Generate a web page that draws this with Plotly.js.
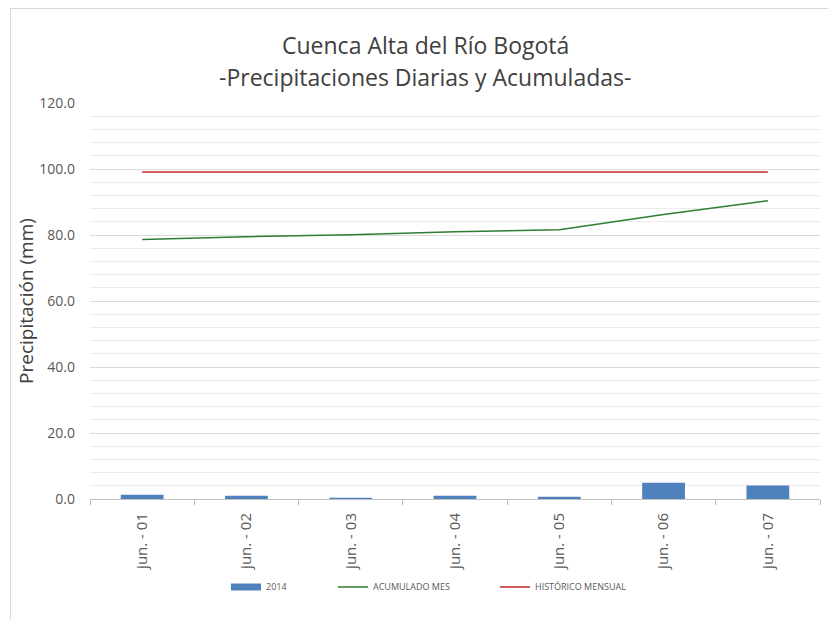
<!DOCTYPE html>
<html>
<head>
<meta charset="utf-8">
<script src="https://cdn.plot.ly/plotly-3.0.1.min.js"></script>
<style>
  html, body { margin: 0; padding: 0; background: #fff; }
  #wrap { position: relative; width: 828px; height: 620px; overflow: hidden; }
  #chart { position: absolute; left: 0; top: 0; width: 828px; height: 620px; }
  #frame { position: absolute; left: 10px; top: 8px; width: 830px; height: 640px; border: 1px solid #D9D9D9; pointer-events: none; }
</style>
</head>
<body>
<div id="wrap">
  <div id="chart"></div>
  <div id="frame"></div>
</div>
<script>
const categories = ["jun. - 01", "jun. - 02", "jun. - 03", "jun. - 04", "jun. - 05", "jun. - 06", "jun. - 07"];
const daily2014 = [1.3, 1.0, 0.4, 1.0, 0.7, 4.9, 4.1];
const acumuladoMes = [78.6, 79.5, 80.1, 81.0, 81.6, 86.2, 90.4];
const historicoMensual = [99.1, 99.1, 99.1, 99.1, 99.1, 99.1, 99.1];
const yTicks = [0, 20, 40, 60, 80, 100, 120];
const yTickLabels = ["0.0", "20.0", "40.0", "60.0", "80.0", "100.0", "120.0"];
const titleLines = ["Cuenca Alta del Río Bogotá", "-Precipitaciones Diarias y Acumuladas-"];

const FONT = "Open Sans, sans-serif";
const GRAY = "#595959";
const BLUE = "#4F81BD", GREEN = "#2E7D32", RED = "#C0282D";

const traces = [
  { type: "bar", name: "2014", x: categories, y: daily2014,
    marker: { color: BLUE }, width: 0.41, showlegend: false },
  // legend-only entry giving the bar series a wide swatch like the original
  { type: "scatter", mode: "lines", name: "2014", x: [null], y: [null],
    line: { color: BLUE, width: 7 }, legend: "legend" },
  { type: "scatter", mode: "lines", name: "ACUMULADO MES", x: categories, y: acumuladoMes,
    line: { color: GREEN, width: 1.5 }, legend: "legend2" },
  { type: "scatter", mode: "lines", name: "HISTÓRICO MENSUAL", x: categories, y: historicoMensual,
    line: { color: RED, width: 1.5 }, legend: "legend3" }
];

const legendBase = {
  orientation: "h", xanchor: "left", y: -0.222, yanchor: "middle",
  font: { family: FONT, size: 9, color: GRAY }, bgcolor: "rgba(0,0,0,0)", borderwidth: 0
};

const layout = {
  width: 828, height: 620,
  margin: { l: 90, r: 8, t: 103, b: 121, pad: 0 },
  paper_bgcolor: "#fff", plot_bgcolor: "#fff",
  font: { family: FONT, color: GRAY },
  annotations: [
    { text: titleLines[0], xref: "paper", yref: "paper", x: (425 - 90) / 730, y: 1 + (103 - 45) / 396,
      xanchor: "center", yanchor: "middle", showarrow: false,
      font: { family: FONT, size: 23, color: "#404040" } },
    { text: titleLines[1], xref: "paper", yref: "paper", x: (425 - 90) / 730, y: 1 + (103 - 77) / 396,
      xanchor: "center", yanchor: "middle", showarrow: false,
      font: { family: FONT, size: 23, color: "#404040" } }
  ],
  xaxis: {
    type: "category", range: [-0.5, 6.5],
    showgrid: false, showline: true, linecolor: "#BFBFBF", linewidth: 1,
    ticks: "outside", tickson: "boundaries", ticklen: 5, tickcolor: "#BFBFBF",
    tickangle: -90, tickfont: { family: FONT, size: 15, color: GRAY },
    ticklabelstandoff: 7,
    zeroline: false, fixedrange: true
  },
  yaxis: {
    range: [0, 120], tickvals: yTicks, ticktext: yTickLabels,
    showgrid: true, gridcolor: "#DADADA", gridwidth: 1,
    minor: { dtick: 4, tick0: 0, showgrid: true, gridcolor: "#EBEBEB", gridwidth: 1 },
    showline: false, zeroline: false, ticks: "", ticklen: 0,
    tickfont: { family: FONT, size: 14, color: GRAY },
    ticklabelstandoff: 14,
    title: { text: "Precipitación (mm)", font: { family: FONT, size: 19, color: "#404040" }, standoff: 0 },
    fixedrange: true
  },
  bargap: 0.59,
  showlegend: true,
  legend: Object.assign({}, legendBase, { x: (226 - 90) / 730 }),
  legend2: Object.assign({}, legendBase, { x: (333 - 90) / 730 }),
  legend3: Object.assign({}, legendBase, { x: (495 - 90) / 730 })
};

Plotly.newPlot("chart", traces, layout, { displayModeBar: false, staticPlot: true });
</script>
</body>
</html>
